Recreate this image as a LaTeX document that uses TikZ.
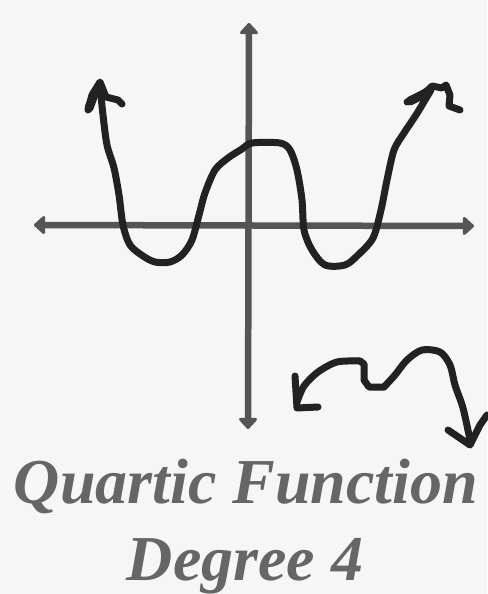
\documentclass[tikz,border=0pt]{standalone}
\usepackage{fontspec}
\setmainfont{Liberation Serif}
\usetikzlibrary{arrows.meta}
\definecolor{bg}{HTML}{F6F6F6}
\definecolor{axis}{HTML}{555555}
\definecolor{ink}{HTML}{222222}
\definecolor{txt}{HTML}{666666}
\tikzset{
  axisline/.style={draw=axis, line width=6.5pt, {Triangle[width=21pt,length=12pt,round]}-{Triangle[width=21pt,length=12pt,round]}},
  pen/.style={draw=ink, line width=7pt, line cap=round, line join=round},
  title/.style={font=\fontsize{64}{70}\selectfont\bfseries\itshape, text=txt, inner sep=0pt, anchor=base}
}
\begin{document}
\begin{tikzpicture}[x=1pt,y=-1pt]
\fill[bg] (0,0) rectangle (487,594);
\useasboundingbox (0,0) rectangle (487,594);
% axes
\coordinate (ytop) at (249,23);
\coordinate (ybot) at (248,429);
\coordinate (xl) at (34,225);
\coordinate (xr) at (474,226);
\draw[axisline] (ybot) -- (ytop);
\draw[axisline] (xl) -- (xr);
% quartic curve
\draw[pen] plot[smooth, tension=0.5] coordinates {
 (100,86) (103,115) (107,145) (114,168) (119,195) (123,225) (130,245) (143,256)
 (155,262) (170,262) (182,255) (192,240) (199,215) (205,193) (215,170) (228,158)
 (242,149) (252,143) (280,143) (290,150) (297,170) (302,200) (304,230) (312,250)
 (325,265) (345,265) (358,255) (373,238) (381,210) (387,180) (394,150) (404,133)
 (416,115) (425,100) (431,90)};
% left arrowhead
\draw[pen] (88,110) -- (92,95) -- (100,82) -- (106,97) -- (118,100) -- (122,104);
\draw[pen, line width=9pt] (89,108) -- (95,92);
% right arrowhead
\draw[pen] (407,102) -- (418,97) -- (428,90) -- (432,86) -- (442,88) -- (446,85) -- (450,95) -- (449,106) -- (460,110);
\draw[pen, line width=9pt] (410,101) -- (424,94);
% lower squiggle
\draw[pen] plot[smooth, tension=0.5] coordinates {
 (297,402) (304,386) (318,372) (337,362) (360,361)};
\draw[pen] (360,361) -- (364,364) -- (364,380) -- (369,387) -- (384,387);
\draw[pen] plot[smooth, tension=0.5] coordinates {
 (384,387) (395,375) (407,360) (422,350) (440,352) (450,365) (455,385) (463,408) (470,440)};
\draw[pen] (295,376) -- (297,408) -- (318,407);
\draw[pen] (448,430) -- (470,445) -- (480,425) -- (487,415);
% text
\node[title] (t1) at (246,503) {Quartic Function};
\node[title] (t2) at (245,580) {Degree 4};
\end{tikzpicture}
\end{document}
